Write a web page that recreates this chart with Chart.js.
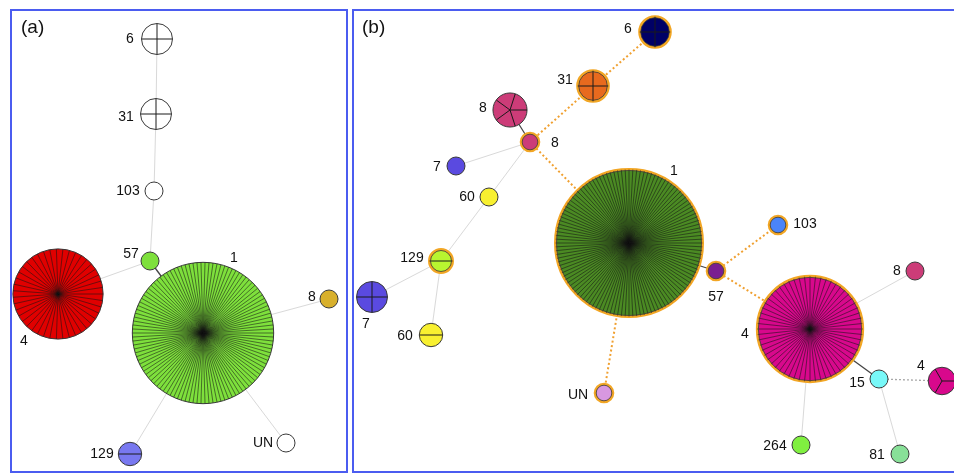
<!DOCTYPE html>
<html>
<head>
<meta charset="utf-8">
<script src="https://cdn.jsdelivr.net/npm/chart.js@4/dist/chart.umd.min.js"></script>
<style>body{margin:0;background:#fff}</style>
</head>
<body>
<canvas id="mst" width="954" height="474"></canvas>
<script>
// ---- data: panel (a) ----
const aNames = ['6', '31', '103', '57', '4', '1', '8', '129', 'UN'];
const aX = [157, 156, 154, 150, 58, 203, 329, 130, 286];
const aY = [39, 114, 191, 261, 294, 333, 299, 454, 443];
const aCounts = [4, 4, 1, 1, 43, 110, 1, 2, 1];
const aLinks = [[0, 1], [1, 2], [2, 3], [3, 4], [3, 5], [5, 6], [5, 7], [5, 8]];
const aLinkKind = ['g', 'g', 'g', 'g', 'd', 'g', 'g', 'g'];

// ---- data: panel (b) ----
const bNames = ['6', '31', '8', '8', '7', '60', '1', '103', '57', '129', '7', '60', 'UN', '4', '8', '15', '4', '264', '81'];
const bX = [655, 593, 510, 530, 456, 489, 629, 778, 716, 441, 372, 431, 604, 810, 915, 879, 942, 801, 900];
const bY = [32, 86, 110, 142, 166, 197, 243, 225, 271, 261, 297, 335, 393, 329, 271, 379, 381, 445, 454];
const bCounts = [4, 4, 5, 1, 1, 1, 120, 1, 1, 2, 4, 2, 1, 60, 1, 1, 3, 1, 1];
const bLinks = [[0, 1], [1, 3], [3, 6], [2, 3], [3, 4], [3, 5], [5, 9], [9, 10], [9, 11],
  [6, 8], [8, 7], [8, 13], [6, 12], [13, 14], [13, 15], [15, 16], [15, 18], [13, 17]];
const bLinkKind = ['o', 'o', 'o', 'd', 'g', 'g', 'g', 'g', 'g',
  'd', 'o', 'o', 'o', 'g', 'd', 'gd', 'g', 'g'];

// ---- styles ----
const aColors = ['#ffffff', '#ffffff', '#ffffff', '#7ee03c', '#e00000', '#7ee03c', '#d8b02c', '#7878f0', '#ffffff'];
const aRing = [0, 0, 0, 0, 0, 0, 0, 0, 0];
const aLabelOff = [[-27, 0], [-30, 3], [-26, 0], [-19, -7], [-34, 47], [31, -75], [-17, -2], [-28, 0], [-23, 0]];

const bColors = ['#000066', '#e86a1e', '#cc3c78', '#cc3c78', '#5a4ae0', '#f8f030', '#4b8a23', '#4a84f8', '#7a1f90',
  '#b8f530', '#5a4ae0', '#f8f030', '#d898e0', '#d8088c', '#cc3c78', '#78f8f8', '#d8088c', '#80f040', '#88e098'];
const bRing = [1, 1, 0, 1, 0, 0, 1, 1, 1, 1, 0, 0, 1, 1, 0, 0, 0, 0, 0];
const bLabelOff = [[-27, -3], [-28, -6], [-27, -2], [25, 1], [-19, 1], [-22, 0], [45, -72], [27, -1], [0, 26],
  [-29, -3], [-6, 27], [-26, 1], [-26, 2], [-65, 5], [-18, 0], [-22, 4], [-21, -15], [-26, 1], [-23, 1]];

const linkStyle = {
  g: { color: '#d9d9d9', width: 1, dash: [] },
  d: { color: '#444444', width: 1.3, dash: [] },
  o: { color: '#f0a030', width: 2, dash: [2, 2.5] },
  gd: { color: '#a8a8a8', width: 1.3, dash: [2, 2] }
};
const ringColor = '#f2a624';

// bubble radius from isolate count
function radiusFor(n) {
  return 2.5 + 6.5 * Math.sqrt(n);
}

function nodeDataset(names, xs, ys, counts, colors, rings, offs) {
  return {
    type: 'bubble',
    order: 1,
    clip: false,
    data: xs.map((x, i) => ({ x: x, y: ys[i], r: radiusFor(counts[i]) })),
    backgroundColor: colors,
    borderColor: rings.map((r) => (r ? ringColor : '#3a3a3a')),
    borderWidth: rings.map((r) => (r ? 2.6 : 1)),
    names: names,
    counts: counts,
    rings: rings,
    labelOff: offs
  };
}

function linkDatasets(links, kinds, xs, ys) {
  return links.map((l, i) => {
    const s = linkStyle[kinds[i]];
    return {
      type: 'line',
      order: 2,
      clip: false,
      data: [{ x: xs[l[0]], y: ys[l[0]] }, { x: xs[l[1]], y: ys[l[1]] }],
      borderColor: s.color,
      borderWidth: s.width,
      borderDash: s.dash,
      pointRadius: 0,
      fill: false
    };
  });
}

const datasets = [
  ...linkDatasets(aLinks, aLinkKind, aX, aY),
  ...linkDatasets(bLinks, bLinkKind, bX, bY),
  nodeDataset(aNames, aX, aY, aCounts, aColors, aRing, aLabelOff),
  nodeDataset(bNames, bX, bY, bCounts, bColors, bRing, bLabelOff)
];

const mstPlugin = {
  id: 'mst',
  beforeDraw(chart) {
    const ctx = chart.ctx;
    ctx.save();
    ctx.fillStyle = '#ffffff';
    ctx.fillRect(0, 0, chart.width, chart.height);
    ctx.strokeStyle = '#4b5cf0';
    ctx.lineWidth = 2;
    ctx.strokeRect(11, 10, 336, 462);
    ctx.strokeRect(353, 10, 640, 462);
    ctx.fillStyle = '#111';
    ctx.font = '19px "Liberation Sans", Arial, sans-serif';
    ctx.textAlign = 'left';
    ctx.textBaseline = 'middle';
    ctx.fillText('(a)', 21, 28);
    ctx.fillText('(b)', 362, 28);
    ctx.restore();
  },
  afterDatasetsDraw(chart) {
    const ctx = chart.ctx;
    chart.data.datasets.forEach((ds, di) => {
      if (ds.type !== 'bubble') return;
      const meta = chart.getDatasetMeta(di);
      meta.data.forEach((el, i) => {
        const n = ds.counts[i];
        const r = ds.data[i].r;
        ctx.save();
        if (n > 1) {
          // slice borders of the pie
          ctx.beginPath();
          ctx.arc(el.x, el.y, r, 0, Math.PI * 2);
          ctx.clip();
          ctx.strokeStyle = n > 20 ? 'rgba(20,20,20,0.85)' : '#1a1a1a';
          ctx.lineWidth = n > 20 ? 0.65 : 1;
          ctx.beginPath();
          for (let k = 0; k < n; k++) {
            const a = (Math.PI * 2 * k) / n;
            ctx.moveTo(el.x, el.y);
            ctx.lineTo(el.x + Math.cos(a) * r, el.y + Math.sin(a) * r);
          }
          ctx.stroke();
        }
        ctx.restore();
        if (ds.rings[i]) {
          ctx.save();
          ctx.strokeStyle = '#3a3a3a';
          ctx.lineWidth = 0.8;
          ctx.beginPath();
          ctx.arc(el.x, el.y, r - 1.2, 0, Math.PI * 2);
          ctx.stroke();
          ctx.restore();
        }
        // label
        ctx.save();
        ctx.fillStyle = '#111';
        ctx.font = '14px "Liberation Sans", Arial, sans-serif';
        ctx.textAlign = 'center';
        ctx.textBaseline = 'middle';
        const o = ds.labelOff[i];
        ctx.fillText(ds.names[i], el.x + o[0], el.y + o[1]);
        ctx.restore();
      });
    });
  }
};

new Chart(document.getElementById('mst').getContext('2d'), {
  type: 'bubble',
  data: { datasets: datasets },
  options: {
    responsive: false,
    animation: false,
    events: [],
    layout: { padding: 0, autoPadding: false },
    plugins: { legend: { display: false }, tooltip: { enabled: false } },
    scales: {
      x: { type: 'linear', min: 0, max: 954, display: false },
      y: { type: 'linear', min: 0, max: 474, reverse: true, display: false }
    }
  },
  plugins: [mstPlugin]
});
</script>
</body>
</html>
